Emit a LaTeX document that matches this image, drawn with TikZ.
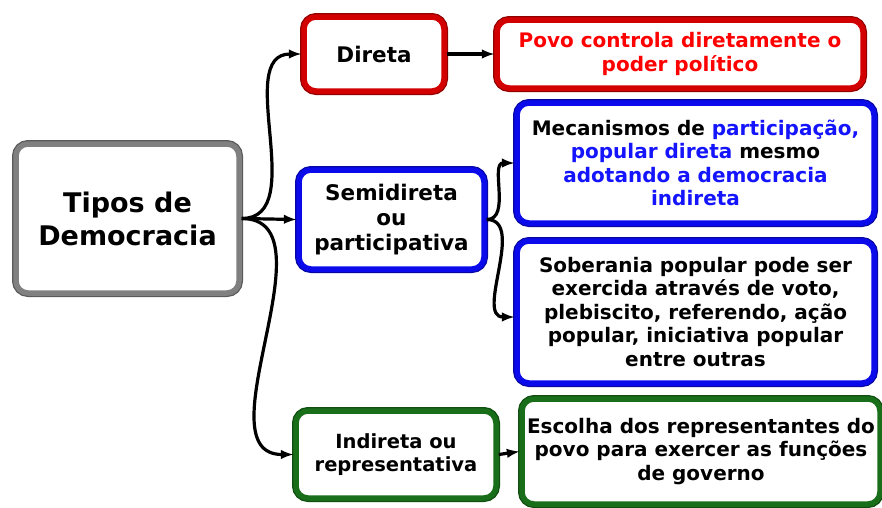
\documentclass[tikz,border=0pt]{standalone}
\usepackage{fontspec}
\setmainfont{DejaVu Sans}
\definecolor{bordgray}{RGB}{128,128,128}
\definecolor{bordred}{RGB}{210,0,0}
\definecolor{bordblue}{RGB}{10,10,235}
\definecolor{bordgreen}{RGB}{25,110,25}
\definecolor{txtred}{RGB}{255,0,0}
\definecolor{txtblue}{RGB}{20,20,255}

\begin{document}
\begin{tikzpicture}[x=1pt,y=-1pt]
				\tikzstyle{tbox}=[rectangle,rounded corners=12pt,fill=white,align=center,
				inner sep=2pt,line width=5.5pt,font=\bfseries\fontsize{20}{23.5}\selectfont]
				\tikzstyle{grybox}=[tbox,draw=bordgray,preaction={draw=bordgray!70!black,line width=8pt}]
				\tikzstyle{redbox}=[tbox,draw=bordred,preaction={draw=bordred!70!black,line width=8pt}]
				\tikzstyle{blubox}=[tbox,draw=bordblue,preaction={draw=bordblue!70!black,line width=8pt}]
				\tikzstyle{grnbox}=[tbox,draw=bordgreen,preaction={draw=bordgreen!70!black,line width=8pt}]
				\tikzstyle{link}=[draw=black,line width=3.2pt,-latex]
				\useasboundingbox (0,0) rectangle (882,507);
				\node[grybox,minimum width=223pt,minimum height=149pt,
				font=\bfseries\fontsize{27}{33}\selectfont] (tipos) at (127.5,218.5) {Tipos de\\Democracia};
				\node[redbox,minimum width=140pt,minimum height=74pt,
				font=\bfseries\fontsize{21.5}{25}\selectfont] (direta) at (374,54) {Direta};
				\node[redbox,minimum width=366pt,minimum height=68pt,text=txtred] (povo) at (680,54)
				{Povo controla diretamente o\\poder político};
				\node[blubox,minimum width=185pt,minimum height=99pt,
				font=\bfseries\fontsize{21.5}{25}\selectfont] (semi) at (391.5,219.5) {Semidireta\\ou\\participativa};
				\node[blubox,minimum width=357pt,minimum height=120pt] (meca) at (695.5,163)
				{Mecanismos de \textcolor{txtblue}{participação,}\\
				\textcolor{txtblue}{popular direta} mesmo\\
				\textcolor{txtblue}{adotando a democracia}\\
				\textcolor{txtblue}{indireta}};
				\node[blubox,minimum width=357pt,minimum height=142pt] (sobe) at (695.5,312)
				{Soberania popular pode ser\\exercida através de voto,\\plebiscito, referendo, ação\\
				popular, iniciativa popular\\entre outras};
				\node[grnbox,minimum width=200pt,minimum height=87pt,
				font=\bfseries\fontsize{19.5}{23.5}\selectfont] (indi) at (396,454.5)
				{Indireta ou\\representativa};
				\node[grnbox,minimum width=358pt,minimum height=105pt] (esco) at (701,451.5)
				{Escolha dos representantes do\\povo para exercer as funções\\de governo};
				\draw[link] (tipos.east) to[out=0,in=180] (direta.west);
				\draw[link] (tipos.east) -- (semi.west);
				\draw[link] (tipos.east) to[out=0,in=180] (indi.west);
				\draw[link] (direta.east) -- (povo.west);
				\draw[link] (semi.east) to[out=0,in=180] (meca.west);
				\draw[link] (semi.east) to[out=0,in=180] ([yshift=-5pt]sobe.west);
				\draw[link] (indi.east) -- (esco.west);
\end{tikzpicture}
\end{document}
